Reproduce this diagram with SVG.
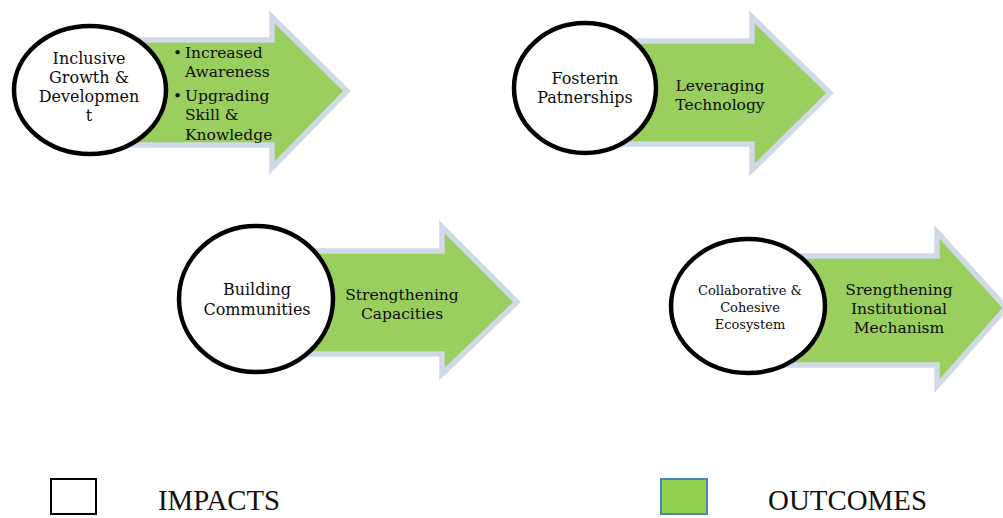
<svg xmlns="http://www.w3.org/2000/svg" width="1003" height="518" viewBox="0 0 1003 518">
  <defs>
    <style>
      .arrow { fill: #9acf5f; stroke: #d0d9e6; stroke-width: 5.5; stroke-linejoin: miter; }
      .impact { fill: #ffffff; stroke: #000000; stroke-width: 4.5; }
      .t { font-family: "DejaVu Serif", "Liberation Serif", serif; fill: #0d0d0d; text-anchor: middle; }
      .c16 { font-size: 16px; }
      .o15 { font-size: 15.5px; }
      .b { font-family: "DejaVu Serif", "Liberation Serif", serif; fill: #0d0d0d; font-size: 15.5px; }
      .leg { font-family: "Liberation Serif", "DejaVu Serif", serif; font-size: 30px; fill: #111111; }
    </style>
  </defs>

  <!-- Connectors: outcome arrows -->
  <g id="connectors">
    <path class="arrow" d="M 90 40 H 272 V 17 L 347 91 L 272 168 V 145 H 90 Z"/>
    <path class="arrow" d="M 585 41 H 752 V 17 L 830 93 L 752 170 V 144 H 585 Z"/>
    <path class="arrow" d="M 256 251 H 442 V 227 L 517 302 L 442 374 V 354 H 256 Z"/>
    <path class="arrow" d="M 748 256 H 937 V 232 L 1006 308 L 937 386 V 365 H 748 Z"/>
  </g>

  <!-- Outcome labels on arrows -->
  <g id="outcome-1">
    <text class="b" x="173" y="58">•</text>
    <text class="b" x="185" y="58">Increased</text>
    <text class="b" x="185" y="77">Awareness</text>
    <text class="b" x="173" y="101">•</text>
    <text class="b" x="185" y="101">Upgrading</text>
    <text class="b" x="185" y="120">Skill &amp;</text>
    <text class="b" x="185" y="140">Knowledge</text>
  </g>
  <g id="outcome-2">
    <text class="t o15" x="720" y="91">Leveraging</text>
    <text class="t o15" x="720" y="110">Technology</text>
  </g>
  <g id="outcome-3">
    <text class="t o15" x="402" y="300">Strengthening</text>
    <text class="t o15" x="402" y="319">Capacities</text>
  </g>
  <g id="outcome-4">
    <text class="t o15" x="899" y="295">Srengthening</text>
    <text class="t o15" x="899" y="314">Institutional</text>
    <text class="t o15" x="899" y="333">Mechanism</text>
  </g>

  <!-- Impact nodes -->
  <g id="impact-1">
    <ellipse class="impact" cx="90" cy="90" rx="76" ry="64"/>
    <text class="t c16" x="89" y="64">Inclusive</text>
    <text class="t c16" x="89" y="83">Growth &amp;</text>
    <text class="t c16" x="89" y="102">Developmen</text>
    <text class="t c16" x="89" y="121">t</text>
  </g>
  <g id="impact-2">
    <ellipse class="impact" cx="585" cy="88" rx="71" ry="65"/>
    <text class="t c16" x="585" y="84">Fosterin</text>
    <text class="t c16" x="585" y="103">Patnerships</text>
  </g>
  <g id="impact-3">
    <ellipse class="impact" cx="256" cy="299" rx="77" ry="73"/>
    <text class="t c16" x="257" y="295">Building</text>
    <text class="t c16" x="257" y="315">Communities</text>
  </g>
  <g id="impact-4">
    <ellipse class="impact" cx="748" cy="306" rx="77" ry="67"/>
    <text class="t" font-size="13" x="750" y="295">Collaborative &amp;</text>
    <text class="t" font-size="13" x="750" y="312">Cohesive</text>
    <text class="t" font-size="13" x="750" y="329">Ecosystem</text>
  </g>

  <!-- Legend -->
  <g id="legend-impacts">
    <rect x="51" y="479" width="45" height="35" fill="#ffffff" stroke="#000000" stroke-width="2"/>
    <text class="leg" x="158" y="510" textLength="122" lengthAdjust="spacingAndGlyphs">IMPACTS</text>
  </g>
  <g id="legend-outcomes">
    <rect x="661" y="479" width="46" height="35" fill="#92d050" stroke="#4f81bd" stroke-width="2"/>
    <text class="leg" x="768" y="510" textLength="159" lengthAdjust="spacingAndGlyphs">OUTCOMES</text>
  </g>
</svg>
